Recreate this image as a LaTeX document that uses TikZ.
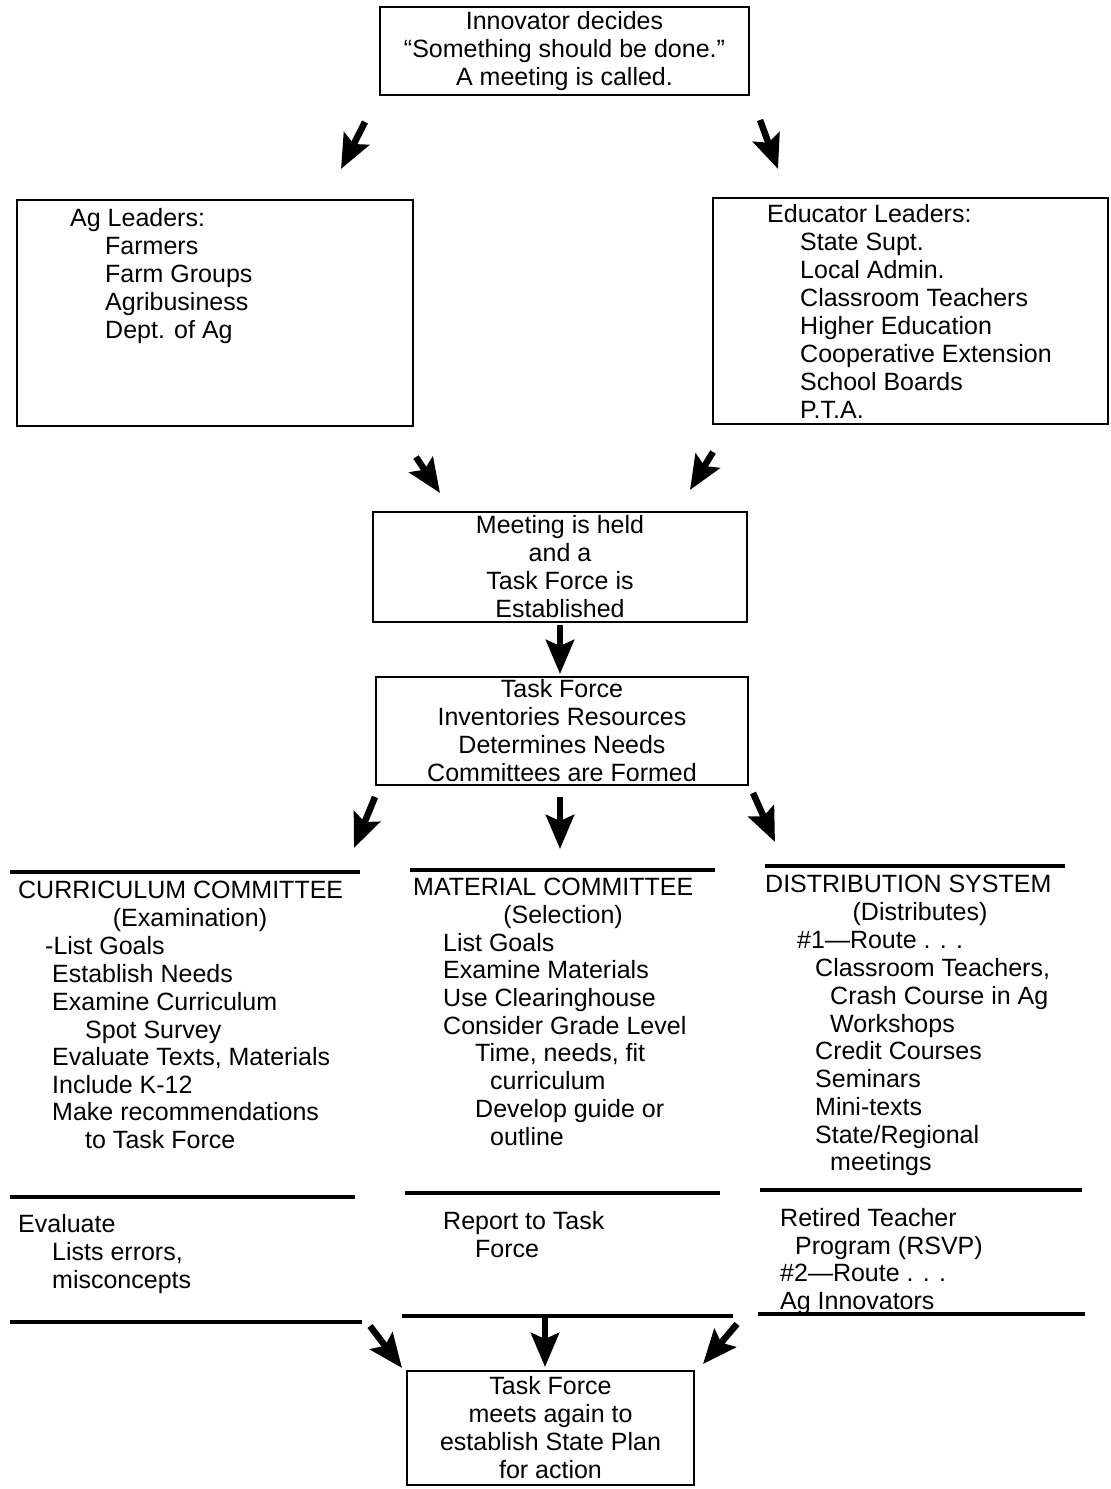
\documentclass[tikz,border=0pt]{standalone}
\usepackage{fontspec}
\setmainfont{Liberation Sans}
\usetikzlibrary{arrows.meta}
\newcommand{\fsz}{\fontsize{25}{28}\selectfont}
\begin{document}
\begin{tikzpicture}[x=1pt,y=-1pt,
  box/.style={draw, line width=2.5pt, inner sep=0pt, align=center, font=\fsz},
  txt/.style={inner sep=0pt, anchor=base west, font=\fsz},
  ctxt/.style={inner sep=0pt, anchor=base, font=\fsz},
  rulel/.style={line width=3.5pt},
  bigarrow/.style={line width=6.5pt, -{Stealth[length=34pt,width=28pt,inset=6pt]}}]
\useasboundingbox (0,0) rectangle (1111,1489);
\fill[white] (0,0) rectangle (1111,1489);

% ---------- top box ----------
\node[box, minimum width=369pt, minimum height=88pt] (innov) at (564.5,51)
  {Innovator decides\\``Something should be done.''\\A meeting is called.};

% ---------- leader boxes ----------
\node[box, minimum width=396pt, minimum height=226pt] (ag) at (215,313) {};
\node[txt] (ag0) at (70,226) {Ag Leaders:};
\node[txt] (ag1) at (105,254) {Farmers};
\node[txt] (ag2) at (105,282) {Farm Groups};
\node[txt] (ag3) at (105,310) {Agribusiness};
\node[txt] (ag4) at (105,338) {Dept. of Ag};

\node[box, minimum width=395pt, minimum height=226pt] (edu) at (910.5,311) {};
\node[txt] (ed0) at (767,222) {Educator Leaders:};
\node[txt] (ed1) at (800,250) {State Supt.};
\node[txt] (ed2) at (800,278) {Local Admin.};
\node[txt] (ed3) at (800,306) {Classroom Teachers};
\node[txt] (ed4) at (800,334) {Higher Education};
\node[txt] (ed5) at (800,362) {Cooperative Extension};
\node[txt] (ed6) at (800,390) {School Boards};
\node[txt] (ed7) at (800,418) {P.T.A.};

% ---------- meeting and task force ----------
\node[box, minimum width=374pt, minimum height=110pt] (meet) at (560,567)
  {Meeting is held\\and a\\Task Force is\\Established};
\node[box, minimum width=372pt, minimum height=108pt] (tf) at (562,731)
  {Task Force\\Inventories Resources\\Determines Needs\\Committees are Formed};

% ---------- curriculum committee ----------
\draw[rulel] (10,872) -- (360,872);
\node[txt] (c0) at (18,898) {CURRICULUM COMMITTEE};
\node[ctxt] (c00) at (190,926) {(Examination)};
\node[txt] (c1) at (45,954) {-List Goals};
\node[txt] (c2) at (52,982) {Establish Needs};
\node[txt] (c3) at (52,1010) {Examine Curriculum};
\node[txt] (c4) at (85,1038) {Spot Survey};
\node[txt] (c5) at (52,1065) {Evaluate Texts, Materials};
\node[txt] (c6) at (52,1093) {Include K-12};
\node[txt] (c7) at (52,1120) {Make recommendations};
\node[txt] (c8) at (85,1148) {to Task Force};
\draw[rulel] (10,1197) -- (355,1197);
\node[txt] (c9) at (18,1232) {Evaluate};
\node[txt] (c10) at (52,1260) {Lists errors,};
\node[txt] (c11) at (52,1288) {misconcepts};
\draw[rulel] (10,1322) -- (362,1322);

% ---------- material committee ----------
\draw[rulel] (410,870) -- (715,870);
\node[txt] (m0) at (413,895) {MATERIAL COMMITTEE};
\node[ctxt] (m00) at (563,923) {(Selection)};
\node[txt] (m1) at (443,951) {List Goals};
\node[txt] (m2) at (443,978) {Examine Materials};
\node[txt] (m3) at (443,1006) {Use Clearinghouse};
\node[txt] (m4) at (443,1034) {Consider Grade Level};
\node[txt] (m5) at (475,1061) {Time, needs, fit};
\node[txt] (m6) at (490,1089) {curriculum};
\node[txt] (m7) at (475,1117) {Develop guide or};
\node[txt] (m8) at (490,1145) {outline};
\draw[rulel] (405,1193) -- (720,1193);
\node[txt] (m9) at (443,1229) {Report to Task};
\node[txt] (m10) at (475,1257) {Force};
\draw[rulel] (402,1316) -- (733,1316);

% ---------- distribution system ----------
\draw[rulel] (765,866) -- (1065,866);
\node[txt] (d0) at (765,892) {DISTRIBUTION SYSTEM};
\node[ctxt] (d00) at (920,920) {(Distributes)};
\node[txt] (d1) at (797,948) {\#1---Route . . .};
\node[txt] (d2) at (815,976) {Classroom Teachers,};
\node[txt] (d3) at (830,1004) {Crash Course in Ag};
\node[txt] (d4) at (830,1032) {Workshops};
\node[txt] (d5) at (815,1059) {Credit Courses};
\node[txt] (d6) at (815,1087) {Seminars};
\node[txt] (d7) at (815,1115) {Mini-texts};
\node[txt] (d8) at (815,1143) {State/Regional};
\node[txt] (d9) at (830,1170) {meetings};
\draw[rulel] (760,1190) -- (1082,1190);
\node[txt] (d10) at (780,1226) {Retired Teacher};
\node[txt] (d11) at (795,1254) {Program (RSVP)};
\node[txt] (d12) at (780,1281) {\#2---Route . . .};
\node[txt] (d13) at (780,1309) {Ag Innovators};
\draw[rulel] (758,1314) -- (1085,1314);

% ---------- final box ----------
\node[box, minimum width=287pt, minimum height=114pt] (final) at (550.5,1428)
  {Task Force\\meets again to\\establish State Plan\\for action};

% ---------- arrow end points ----------
\coordinate (a1s) at (365,122); \coordinate (a1e) at (341,169);
\coordinate (a2s) at (760,120); \coordinate (a2e) at (778,169);
\coordinate (a3s) at (416,457); \coordinate (a3e) at (440,493);
\coordinate (a4s) at (713,452); \coordinate (a4e) at (690,490);
\coordinate (a5s) at (560,625); \coordinate (a5e) at (560,674);
\coordinate (a6s) at (375,797); \coordinate (a6e) at (354,848);
\coordinate (a7s) at (560,797); \coordinate (a7e) at (560,849);
\coordinate (a8s) at (753,793); \coordinate (a8e) at (775,842);
\coordinate (a9s) at (370,1326); \coordinate (a9e) at (402,1368);
\coordinate (a10s) at (545,1316); \coordinate (a10e) at (545,1367);
\coordinate (a11s) at (737,1324); \coordinate (a11e) at (703,1364);

\foreach \k in {1,...,11} \draw[bigarrow] (a\k s) -- (a\k e);
\end{tikzpicture}
\end{document}
